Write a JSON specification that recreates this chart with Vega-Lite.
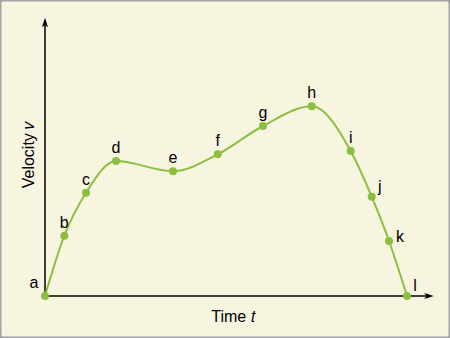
{
  "$schema": "https://vega.github.io/schema/vega-lite/v6.json",
  "width": 450,
  "height": 338,
  "padding": 0,
  "autosize": {"type": "none"},
  "background": "#f7f5e0",
  "config": {
    "view": {"fill": "#f7f5e0", "stroke": "#a3a3a3", "strokeWidth": 3, "cornerRadius": 3},
    "font": "Liberation Sans"
  },
  "datasets": {
    "pts": [
      {"label": "a", "t": 0, "v": 0},
      {"label": "b", "t": 0.533, "v": 2.169},
      {"label": "c", "t": 1.133, "v": 3.716},
      {"label": "d", "t": 1.961, "v": 4.856},
      {"label": "e", "t": 3.536, "v": 4.486},
      {"label": "f", "t": 4.771, "v": 5.097},
      {"label": "g", "t": 6.022, "v": 6.115},
      {"label": "h", "t": 7.367, "v": 6.824},
      {"label": "i", "t": 8.445, "v": 5.216},
      {"label": "j", "t": 9.025, "v": 3.572},
      {"label": "k", "t": 9.503, "v": 1.978},
      {"label": "l", "t": 10.0, "v": 0}
    ],
    "axes": [
      {"axis": "y", "t": 0, "v": 0, "t2": 0, "v2": 9.92, "at": 0, "av": 9.83, "angle": 0},
      {"axis": "x", "t": 0, "v": 0, "t2": 10.55, "v2": 0, "at": 10.6, "av": 0, "angle": 90}
    ]
  },
  "encoding": {
    "x": {"field": "t", "type": "quantitative", "scale": {"domain": [-1.2431, 11.1878], "nice": false, "zero": false},
      "axis": {"title": "Time 𝑡", "domain": false, "ticks": false, "labels": false, "grid": false,
        "titleFontSize": 16, "titleFontWeight": "normal", "titleColor": "#000", "titleX": 233, "titleY": -17, "titleBaseline": "alphabetic", "titleAlign": "center", "titleFont": "Liberation Sans"}},
    "y": {"field": "v", "type": "quantitative", "scale": {"domain": [-1.5108, 10.6475], "nice": false, "zero": false},
      "axis": {"title": "Velocity 𝑣", "domain": false, "ticks": false, "labels": false, "grid": false,
        "titleFontSize": 16, "titleFontWeight": "normal", "titleColor": "#000", "titleX": 33, "titleY": 154, "titleAngle": -90, "titleBaseline": "alphabetic", "titleAlign": "center", "titleFont": "Liberation Sans"}}
  },
  "layer": [
    {
      "data": {"name": "axes"},
      "mark": {"type": "rule", "color": "#000", "strokeWidth": 1.5},
      "encoding": {"x2": {"field": "t2"}, "y2": {"field": "v2"}}
    },
    {
      "data": {"name": "axes"},
      "mark": {"type": "point", "filled": true, "color": "#000", "opacity": 1, "size": 100, "shape": "M0,-1L0.6,0.9L0,0.45L-0.6,0.9Z"},
      "encoding": {"x": {"field": "at", "type": "quantitative"}, "y": {"field": "av", "type": "quantitative"}, "angle": {"field": "angle", "type": "quantitative", "scale": null}}
    },
    {
      "data": {"name": "pts"},
      "mark": {"type": "line", "color": "#8cbf3f", "strokeWidth": 2, "interpolate": "monotone"},
      "encoding": {}
    },
    {
      "data": {"name": "pts"},
      "mark": {"type": "circle", "color": "#8cbf3f", "opacity": 1, "size": 64},
      "encoding": {}
    },
    {
      "data": {"name": "pts"},
      "transform": [{"filter": "indexof(['b','c','d','e','f','g','h','i'], datum.label) >= 0"}],
      "mark": {"type": "text", "fontSize": 16, "color": "#000", "dy": -13, "baseline": "middle", "align": "center"},
      "encoding": {"text": {"field": "label"}}
    },
    {
      "data": {"name": "pts"},
      "transform": [{"filter": "datum.label == 'a'"}],
      "mark": {"type": "text", "fontSize": 16, "color": "#000", "dx": -11, "dy": -13, "baseline": "middle", "align": "center"},
      "encoding": {"text": {"field": "label"}}
    },
    {
      "data": {"name": "pts"},
      "transform": [{"filter": "datum.label == 'j' || datum.label == 'l'"}],
      "mark": {"type": "text", "fontSize": 16, "color": "#000", "dx": 8, "dy": -10, "baseline": "middle", "align": "center"},
      "encoding": {"text": {"field": "label"}}
    },
    {
      "data": {"name": "pts"},
      "transform": [{"filter": "datum.label == 'k'"}],
      "mark": {"type": "text", "fontSize": 16, "color": "#000", "dx": 11, "dy": -4, "baseline": "middle", "align": "center"},
      "encoding": {"text": {"field": "label"}}
    }
  ]
}
